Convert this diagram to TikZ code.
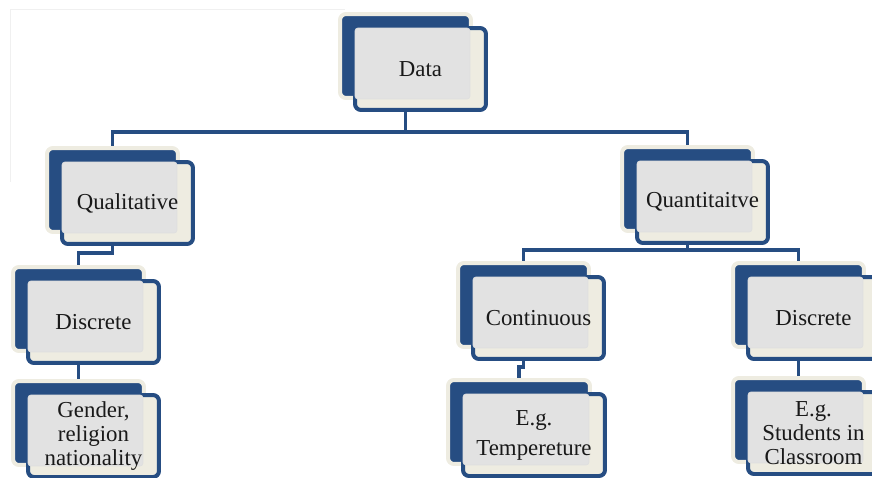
\documentclass[tikz,border=0pt]{standalone}
\usepackage{fontspec}
\setmainfont{Liberation Serif}
\usetikzlibrary{backgrounds}
\definecolor{chartblue}{HTML}{264D82}
\definecolor{chartcream}{HTML}{EEECE1}
\definecolor{chartgray}{HTML}{E2E2E2}
\begin{document}
\begin{tikzpicture}[x=0.02cm,y=-0.02cm,
	backbox/.style={draw=chartcream,fill=chartblue,line width=0.08cm,rounded corners=0.12cm,inner sep=0,minimum width=2.62cm,minimum height=1.68cm},
	frontbox/.style={draw=chartblue,fill=chartcream,line width=0.08cm,rounded corners=0.12cm,inner sep=0,minimum width=2.62cm,minimum height=1.64cm},
	panel/.style={fill=chartgray,draw=gray!25,line width=0.4pt,rounded corners=0.06cm},
	boxtext/.style={align=center,font=\fontsize{13}{13.7}\selectfont,text=black!90},
	link/.style={draw=chartblue,line width=0.07cm}]
	\clip (0,0) rectangle (872,477);
	% Data
	\node[backbox] (datab) at (405.5,56) {};
	\node[frontbox] (dataf) at ([shift={(15,13)}]datab.center) {};
	\path[panel] ([shift={(2,2)}]dataf.north west) rectangle ([shift={(-3,-1)}]datab.south east);
	\node[boxtext] (data) at (dataf.center) {Data};
	% Qualitative
	\node[backbox] (qualb) at (112.5,190) {};
	\node[frontbox] (qualf) at ([shift={(15,13)}]qualb.center) {};
	\path[panel] ([shift={(2,2)}]qualf.north west) rectangle ([shift={(-3,-1)}]qualb.south east);
	\node[boxtext] (qual) at (qualf.center) {Qualitative};
	% Quantitaitve
	\node[backbox] (quanb) at (687.5,189) {};
	\node[frontbox] (quanf) at ([shift={(15,13)}]quanb.center) {};
	\path[panel] ([shift={(2,2)}]quanf.north west) rectangle ([shift={(-3,-1)}]quanb.south east);
	\node[boxtext] (quan) at (quanf.center) {Quantitaitve};
	% Discrete (left)
	\node[backbox] (discLb) at (78.5,309) {};
	\node[frontbox] (discLf) at ([shift={(15,13)}]discLb.center) {};
	\path[panel] ([shift={(2,2)}]discLf.north west) rectangle ([shift={(-3,-1)}]discLb.south east);
	\node[boxtext] (discL) at (discLf.center) {Discrete};
	% Gender
	\node[backbox] (gendb) at (78.5,423) {};
	\node[frontbox] (gendf) at ([shift={(15,13)}]gendb.center) {};
	\path[panel] ([shift={(2,2)}]gendf.north west) rectangle ([shift={(-3,-1)}]gendb.south east);
	\node[boxtext] (gend) at (gendf.center) {Gender,\\religion\\nationality};
	% Continuous
	\node[backbox] (contb) at (523.5,305) {};
	\node[frontbox] (contf) at ([shift={(15,13)}]contb.center) {};
	\path[panel] ([shift={(2,2)}]contf.north west) rectangle ([shift={(-3,-1)}]contb.south east);
	\node[boxtext] (cont) at (contf.center) {Continuous};
	% Tempereture
	\node[backbox,minimum width=2.84cm] (tempb) at (519,422) {};
	\node[frontbox,minimum width=2.84cm] (tempf) at ([shift={(15,13)}]tempb.center) {};
	\path[panel] ([shift={(2,2)}]tempf.north west) rectangle ([shift={(-3,-1)}]tempb.south east);
	\node[boxtext] (temp) at (tempf.center) {E.g.\\[3.4pt]Tempereture};
	% Discrete (right)
	\node[backbox] (discRb) at (798.5,305) {};
	\node[frontbox] (discRf) at ([shift={(15,13)}]discRb.center) {};
	\path[panel] ([shift={(2,2)}]discRf.north west) rectangle ([shift={(-3,-1)}]discRb.south east);
	\node[boxtext] (discR) at (discRf.center) {Discrete};
	% Students
	\node[backbox] (studb) at (798.5,420) {};
	\node[frontbox] (studf) at ([shift={(15,13)}]studb.center) {};
	\path[panel] ([shift={(2,2)}]studf.north west) rectangle ([shift={(-3,-1)}]studb.south east);
	\node[boxtext] (stud) at (studf.center) {E.g.\\Students in\\Classroom};
	% connectors, behind the boxes
	\begin{scope}[on background layer]
		\draw[gray!12,line width=0.02cm] (10,9.5) -- (345,9.5);
		\draw[gray!12,line width=0.02cm] (10,9.5) -- (10,182);
		\coordinate (dataj) at (405.5,132);
		\coordinate (qualj) at (112.5,253);
		\coordinate (quanj) at (687.5,250);
		\coordinate (contj) at (523.5,367);
		\draw[link] (datab) -- (dataj);
		\draw[link] (qualb) |- (dataj) -| (quanb);
		\draw[link] (qualb) -- (qualj) -| (discLb);
		\draw[link] (discLb) -- (gendb);
		\draw[link] (quanb) -- (quanj);
		\draw[link] (contb) |- (quanj) -| (discRb);
		\draw[link] (contb) -- (contj) -| (tempb);
		\draw[link] (discRb) -- (studb);
	\end{scope}
\end{tikzpicture}
\end{document}
